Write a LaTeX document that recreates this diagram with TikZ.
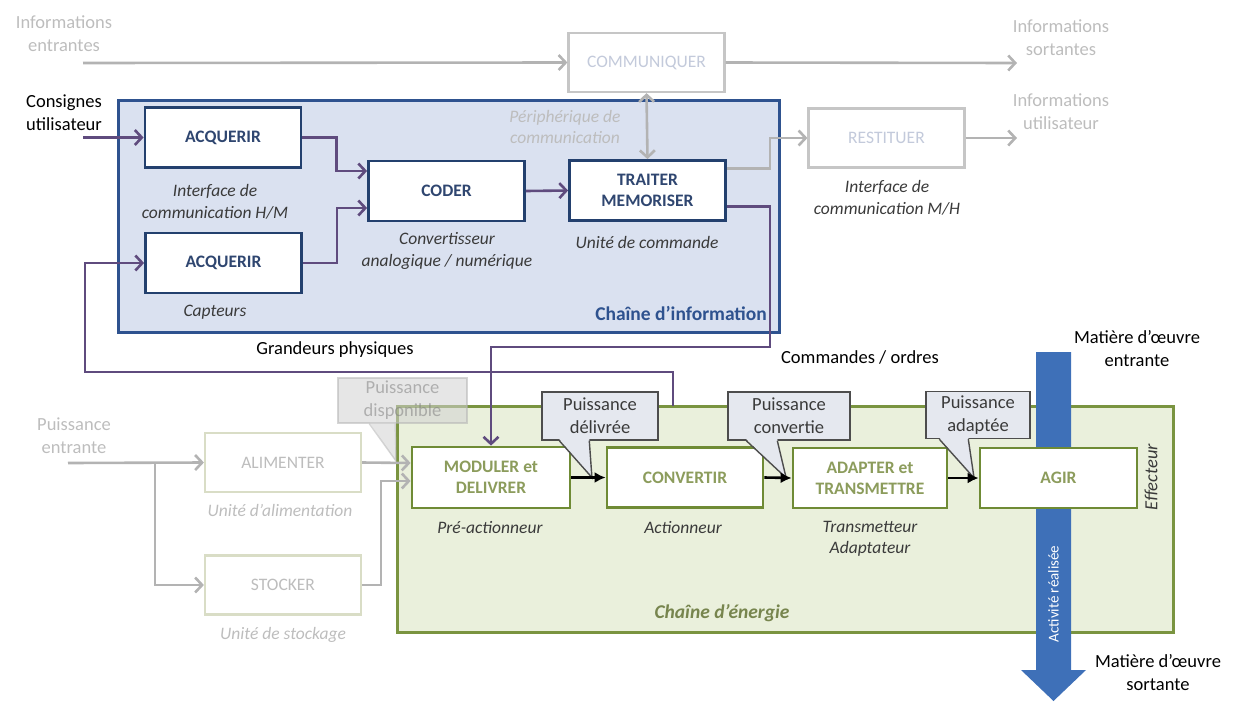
\documentclass[tikz,border=0pt]{standalone}
\usepackage{fontspec}
\setmainfont{Carlito}
\usetikzlibrary{arrows.meta,calc}

\definecolor{infoframeline}{HTML}{2E528F}
\definecolor{infoframefill}{HTML}{DAE1F0}
\definecolor{infoline}{HTML}{23406E}
\definecolor{infotext}{HTML}{2F4670}
\definecolor{cmdpurple}{HTML}{5F4B7E}
\definecolor{energyline}{HTML}{7A9440}
\definecolor{energyfill}{HTML}{EAF0DC}
\definecolor{energybox}{HTML}{6F8B35}
\definecolor{energytext}{HTML}{8C9C5C}
\definecolor{greyline}{HTML}{B3B3B3}
\definecolor{palebox}{HTML}{C6C6C6}
\definecolor{paletext}{HTML}{C3CADB}
\definecolor{paleolive}{HTML}{D9DDC6}
\definecolor{lighttext}{HTML}{BDBDBD}
\definecolor{labeldark}{HTML}{3A3A3A}
\definecolor{calloutfill}{HTML}{E5E8EF}
\definecolor{calloutline}{HTML}{4D4D4D}
\definecolor{matterblue}{HTML}{3E70B8}

\newcommand\calloutptr[4]{%
  % #1 callout node, #2 and #3 offsets of the pointer base along its bottom edge, #4 tip
  \fill[calloutfill] ($(#1.south west)+(#2,-1.6)$) -- (#4) -- ($(#1.south west)+(#3,-1.6)$) -- cycle;
  \draw[calloutline, line width=1.4pt, line join=miter]
    ($(#1.south west)+(#2,0)$) -- (#4) -- ($(#1.south west)+(#3,0)$);
}

\begin{document}
\begin{tikzpicture}[x=1pt,y=-1pt,
  every node/.style={inner sep=0pt, align=center},
  barb/.tip={Straight Barb[length=7pt,width=15pt]},
  infoframe/.style={draw=infoframeline, fill=infoframefill, line width=3pt},
  energyframe/.style={draw=energyline, fill=energyfill, line width=3pt},
  infobox/.style={draw=infoline, fill=white, line width=2.8pt, text=infotext,
    minimum width=156pt, minimum height=60pt,
    font=\fontsize{17.5}{21}\selectfont\bfseries},
  energybox/.style={draw=energybox, fill=white, line width=2.8pt, text=energytext,
    minimum width=156pt, minimum height=60pt,
    font=\fontsize{17.5}{21}\selectfont\bfseries},
  palebox/.style={draw=palebox, fill=white, line width=2.2pt, text=paletext,
    minimum width=156pt, minimum height=59pt,
    font=\fontsize{17.5}{21}\selectfont},
  powerbox/.style={draw=paleolive, fill=white, line width=2.2pt, text=lighttext,
    minimum width=156pt, minimum height=59pt,
    font=\fontsize{17.5}{21}\selectfont},
  role/.style={text=labeldark, font=\fontsize{17.5}{21.5}\selectfont\itshape},
  palerole/.style={text=lighttext, font=\fontsize{17.5}{21.5}\selectfont\itshape},
  plain/.style={text=black, font=\fontsize{18.5}{23}\selectfont},
  paleplain/.style={text=lighttext, font=\fontsize{18.5}{23}\selectfont},
  callout/.style={draw=calloutline, fill=calloutfill, line width=1.4pt, text=labeldark,
    minimum height=48pt, font=\fontsize{18.5}{23}\selectfont},
  cmdline/.style={draw=cmdpurple, line width=2.6pt, -barb},
  greyarrow/.style={draw=greyline, line width=2.6pt, -barb},
  powerarrow/.style={draw=black, line width=2.6pt,
    -{Latex[length=11pt,width=11pt]}}
]
\useasboundingbox (0,0) rectangle (1235,702);

% ---------- chain frames ----------
\node[infoframe, minimum width=661pt, minimum height=232pt] (info) at (448.5,216) {};
\node[energyframe, minimum width=776pt, minimum height=226pt] (energy) at (785,519) {};

% ---------- material flow through the effector ----------
\fill[matterblue] (1036,352) -- (1071,352) -- (1071,670) -- (1086,670)
  -- (1053.5,701) -- (1021,670) -- (1036,670) -- cycle;
\node[rotate=90, text=white, font=\fontsize{15}{17}\selectfont] (activite) at (1053.5,594) {Activité réalisée};

% ---------- information chain ----------
\node[infobox] (acq1) at (223,137.5) {ACQUERIR};
\node[infobox] (acq2) at (223.5,263) {ACQUERIR};
\node[infobox] (coder) at (446.5,191) {CODER};
\node[infobox] (traiter) at (647.5,190.5) {TRAITER\\MEMORISER};
\node[palebox] (comm) at (646.5,62.5) {COMMUNIQUER};
\node[palebox] (restit) at (886.5,138) {RESTITUER};

\node[role] (lacq1) at (215,202) {Interface de\\communication H/M};
\node[role] (lacq2) at (215,312) {Capteurs};
\node[role] (lcoder) at (447,251) {Convertisseur\\analogique / numérique};
\node[role] (ltraiter) at (647,242) {Unité de commande};
\node[role] (lrestit) at (887,198) {Interface de\\communication M/H};
\node[palerole] (lperi) at (565,127) {Périphérique de\\communication};
\node[anchor=east, text=infoframeline, font=\fontsize{19.5}{23}\selectfont\bfseries] (tinfo) at (767,313) {Chaîne d'information};

% ---------- energy chain ----------
\node[powerbox] (alim) at (283,462.5) {ALIMENTER};
\node[powerbox] (stock) at (283,585) {STOCKER};
\node[energybox, minimum width=158pt, minimum height=61pt] (moduler) at (491,477.5) {MODULER et\\DELIVRER};
\node[energybox] (convertir) at (685,477.5) {CONVERTIR};
\node[energybox, minimum width=154pt] (adapter) at (870,478) {ADAPTER et\\TRANSMETTRE};
\node[energybox, minimum width=157pt] (agir) at (1058.5,478) {AGIR};

\node[palerole] (lalim) at (280,510) {Unité d'alimentation};
\node[palerole] (lstock) at (283,635) {Unité de stockage};
\node[role] (lmod) at (490,528) {Pré-actionneur};
\node[role] (lconv) at (683,528) {Actionneur};
\node[role] (ladapt) at (870,539) {Transmetteur\\Adaptateur};
\node[role, rotate=90, font=\fontsize{18.5}{22}\selectfont\itshape] (leff) at (1151,477) {Effecteur};
\node[text=energytext!85!black, font=\fontsize{19.5}{23}\selectfont\bfseries\itshape] (tenergy) at (722,613) {Chaîne d'énergie};

% ---------- outer labels ----------
\node[paleplain] (tie) at (64,34) {Informations\\entrantes};
\node[paleplain] (tis) at (1061,38) {Informations\\sortantes};
\node[paleplain] (tiu) at (1061,112) {Informations\\utilisateur};
\node[plain] (tcons) at (64,113) {Consignes\\utilisateur};
\node[paleplain] (tpe) at (74,436) {Puissance\\entrante};
\node[plain] (tgp) at (335,350) {Grandeurs physiques};
\node[plain] (tcmd) at (860,357) {Commandes / ordres};
\node[plain] (tmoe) at (1137,348.5) {Matière d'œuvre\\entrante};
\node[plain] (tmos) at (1158,673) {Matière d'œuvre\\sortante};

% ---------- free ends and bends ----------
\coordinate (ieStart) at (83,63);
\coordinate (isEnd) at (1017,63);
\coordinate (iuEnd) at (1017,138);
\coordinate (consStart) at (83,137.5);
\coordinate (cmdBend) at (770,347);
\coordinate (fbStart) at (673,406);
\coordinate (fbBend) at (85,372);
\coordinate (peStart) at (68,463);
\coordinate (peBranch) at (155,463);

% ---------- information connectors ----------
\draw[greyarrow] (ieStart) -- (comm.west);
\draw[greyarrow] (comm.east) -- (isEnd);
\draw[greyarrow] (restit.east) -- (iuEnd);
\draw[greyarrow] ([yshift=22pt]traiter.east) -- ++(43,0) |- (restit.west);
\draw[greyarrow, barb-barb] (comm.south) -- (traiter.north);
\draw[cmdline] (consStart) -- (acq1.west);
\draw[cmdline] (acq1.east) -- ++(34,0) |- ([yshift=20pt]coder.west);
\draw[cmdline] (acq2.east) -- ++(34,0) |- ([yshift=-17pt]coder.west);
\draw[cmdline] (coder.east) -- (traiter.west);
\draw[cmdline] ([yshift=-16pt]traiter.east) -| (cmdBend) -| (moduler.north);
\draw[cmdline] (fbStart) |- (fbBend) |- (acq2.west);

% ---------- power supply connectors ----------
\draw[greyarrow] (peStart) -- (alim.west);
\draw[greyarrow] (peBranch) |- (stock.west);
\draw[greyarrow] (alim.east) -- ([yshift=14.5pt]moduler.west);
\draw[greyarrow] (stock.east) -- ++(19,0) |- ([yshift=-3.5pt]moduler.west);

% ---------- power callouts ----------
\coordinate (tipDel) at ($(moduler.east)!0.6!(convertir.west)$);
\coordinate (tipConv) at ($(convertir.east)!0.8!(adapter.west)$);
\coordinate (tipAdapt) at ($(adapter.east)!0.85!(agir.west)$);
\coordinate (tipDisp) at (396,461);

\node[callout, minimum width=116pt] (cdel) at (600,416) {Puissance\\délivrée};
\calloutptr{cdel}{18}{48}{tipDel}
\node[callout, minimum width=122pt] (cconv) at (789,416) {Puissance\\convertie};
\calloutptr{cconv}{19}{50}{tipConv}
\node[callout, minimum width=104pt, minimum height=47pt] (cadapt) at (978,415) {Puissance\\adaptée};
\calloutptr{cadapt}{14}{43}{tipAdapt}

\begin{scope}[opacity=0.55]
  \node[callout, draw=greyline, fill=lightgray!70, text=gray, minimum width=129pt, minimum height=45pt] (cdisp) at (402.5,400.5) {Puissance\\disponible};
  \fill[lightgray!70] ($(cdisp.south west)+(32,-1.6)$) -- (tipDisp) -- ($(cdisp.south west)+(58,-1.6)$) -- cycle;
  \draw[greyline, line width=1.4pt] ($(cdisp.south west)+(32,0)$) -- (tipDisp) -- ($(cdisp.south west)+(58,0)$);
\end{scope}

% ---------- power flow ----------
\draw[powerarrow] (moduler.east) -- (convertir.west);
\draw[powerarrow] (convertir.east) -- (adapter.west);
\draw[powerarrow] (adapter.east) -- (agir.west);

\end{tikzpicture}
\end{document}
